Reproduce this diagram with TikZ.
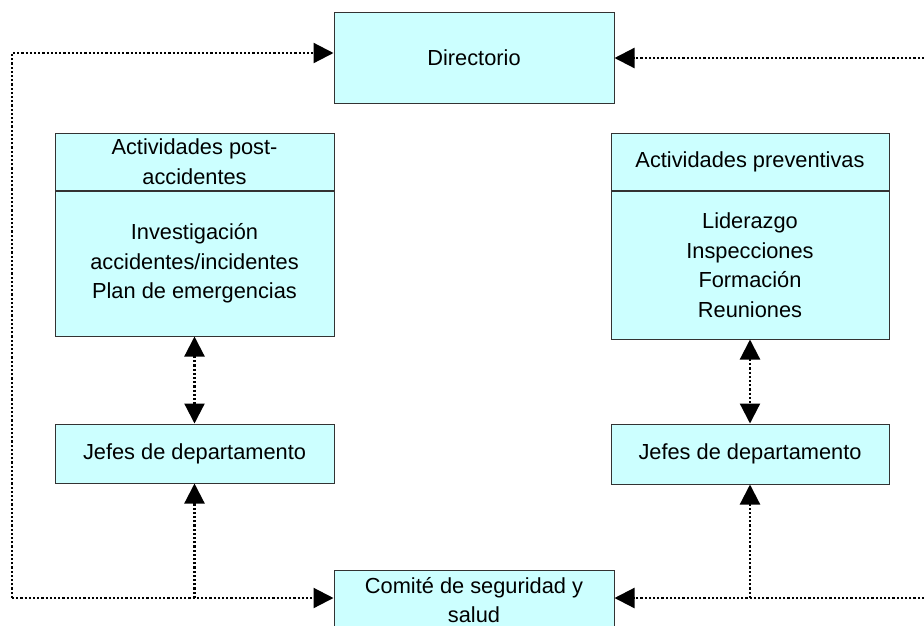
\documentclass[tikz,border=0pt]{standalone}
\usepackage{fontspec}
\setmainfont{Liberation Sans}
\usetikzlibrary{arrows.meta,positioning}
\definecolor{boxfill}{HTML}{CCFFFF}
\definecolor{boxline}{HTML}{333333}
\tikzset{
  box/.style={draw=boxline, line width=1pt, fill=boxfill, inner sep=0pt,
    minimum width=279pt, align=center, font=\fontsize{21.8}{29.6}\selectfont},
  link/.style={line width=2.2pt, dash pattern=on 2.2pt off 2pt,
    -{Triangle[length=20pt,width=20pt]}},
  linkboth/.style={link, {Triangle[length=20pt,width=20pt]}-{Triangle[length=20pt,width=20pt]}}
}
\begin{document}
\begin{tikzpicture}[x=1pt,y=-1pt] % 8 boxes
      \useasboundingbox (0,0) rectangle (924,625);
      \node[name=dir, box, minimum width=280pt, minimum height=91pt] at (474,57.5){Directorio};
      \node[name=posthead, box, minimum height=57pt] at (194.5,161.5){Actividades post-\\accidentes};
      \node[name=postbody, box, minimum height=145pt, below=0pt of posthead]{Investigación\\accidentes/incidentes\\Plan de emergencias};
      \node[name=prevhead, box, minimum width=278pt, minimum height=57pt] at (750,161.5){Actividades preventivas};
      \node[name=prevbody, box, minimum width=278pt, minimum height=148pt, below=0pt of prevhead]{Liderazgo\\Inspecciones\\Formación\\Reuniones};
      \node[name=jefesL, box, minimum height=59pt] at (194.5,453.5){Jefes de departamento};
      \node[name=jefesR, box, minimum width=278pt, minimum height=60pt] at (750,454){Jefes de departamento};
      \node[name=comite, box, minimum width=280pt, minimum height=60pt] at (474,600){Comité de seguridad y\\salud};
      \coordinate (ltop) at (12,53);
      \coordinate (lbot) at (12,598);
      \coordinate (rtop) at (924,58);
      \coordinate (rbot) at (924,598);
      % left loop
      \draw[link] (lbot) -- (ltop) -- (ltop -| dir.west);
      \draw[link] (lbot) -- (lbot -| comite.west);
      \draw[link] (lbot -| jefesL) -- (jefesL.south);
      \draw[linkboth] (postbody.south) -- (jefesL.north);
      % right loop
      \draw[link] (rtop) -- (rtop -| dir.east);
      \draw[link] (rbot) -- (rbot -| comite.east);
      \draw[link] (rbot -| jefesR) -- (jefesR.south);
      \draw[linkboth] (prevbody.south) -- (jefesR.north);
   \end{tikzpicture}
\end{document}
